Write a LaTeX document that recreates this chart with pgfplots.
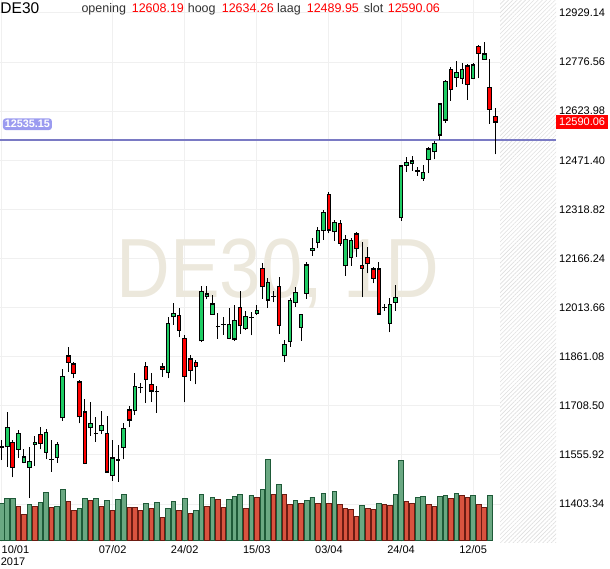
\documentclass[border=0pt]{standalone}
\usepackage{pgfplots}
\pgfplotsset{compat=1.18}
\usepackage{pgfplotstable}
\usepackage{fontspec}
\setmainfont{Liberation Sans}
\usetikzlibrary{patterns.meta}
\definecolor{cgreen}{RGB}{30,205,100}
\definecolor{cred}{RGB}{255,0,0}
\definecolor{vgreen}{RGB}{106,168,130}
\definecolor{vgreend}{RGB}{30,90,56}
\definecolor{vred}{RGB}{217,83,63}
\definecolor{vredd}{RGB}{107,27,18}
\definecolor{gridc}{RGB}{240,240,240}
\definecolor{hlinec}{RGB}{122,122,196}
\definecolor{hlabel}{RGB}{155,155,240}
\definecolor{wmark}{RGB}{236,232,220}
\definecolor{hdrgray}{RGB}{50,50,50}

% i open high low close volume volume-up
\pgfplotstableread{
i o h l c v vg
0 11580.49 11602.24 11540.09 11580.49 37.3 1
1 11581.42 11689.25 11519.27 11641.71 42.3 1
2 11595.09 11602.24 11486.33 11517.41 42.5 1
3 11573.34 11633.31 11547.24 11623.06 34.3 0
4 11532.94 11573.34 11529.84 11549.41 26.3 0
5 11517.41 11579.56 11422.00 11536.05 36.3 1
6 11588.88 11614.67 11521.44 11595.09 34.3 0
7 11619.95 11641.71 11573.34 11591.98 38.3 1
8 11564.02 11635.49 11542.27 11626.17 48.3 1
9 11542.27 11602.24 11502.91 11542.27 33.3 0
10 11548.48 11596.96 11531.70 11588.88 34.3 1
11 11671.54 11821.94 11662.21 11800.19 51.3 1
12 11863.27 11892.17 11814.48 11843.69 39.3 0
13 11838.41 11845.56 11793.97 11809.51 30.3 0
14 11782.48 11788.69 11654.14 11674.64 32.3 1
15 11689.25 11729.65 11527.50 11529.84 42.3 1
16 11640.46 11720.32 11614.67 11654.14 40.3 0
17 11623.06 11672.78 11596.96 11623.06 42.3 1
18 11631.14 11693.29 11620.88 11647.92 34.3 0
19 11623.06 11676.82 11501.00 11502.91 40.3 1
20 11491.30 11602.24 11475.76 11546.30 30.3 0
21 11540.09 11586.70 11472.66 11540.09 41.3 1
22 11579.56 11656.00 11542.27 11638.60 46.3 1
23 11695.46 11707.89 11641.71 11664.39 33.3 0
24 11693.29 11809.51 11679.93 11769.11 33.0 0
25 11764.76 11778.44 11747.36 11764.76 30.3 0
26 11830.02 11845.56 11718.15 11790.87 37.3 1
27 11775.33 11809.51 11721.26 11754.51 32.3 0
28 11752.33 11770.05 11687.07 11752.33 38.3 1
29 11829.09 11840.58 11798.94 11821.94 23.3 0
30 11811.37 11985.39 11793.97 11964.89 32.3 1
31 11985.39 12027.04 11959.60 11995.96 39.3 1
32 11989.75 12011.50 11921.38 11943.13 30.3 0
33 11918.27 11928.53 11719.39 11800.19 42.3 1
34 11853.95 11866.38 11786.51 11818.83 27.3 0
35 11843.69 11850.84 11775.33 11830.02 30.3 1
36 11910.81 12080.80 11906.77 12064.33 46.3 1
37 12048.79 12080.80 12039.47 12055.94 34.3 0
38 11992.85 12052.83 11990.68 12024.86 43.3 1
39 11954.32 11995.96 11916.10 11954.32 41.3 0
40 11961.78 11983.53 11928.53 11961.78 33.3 0
41 11918.27 12013.36 11915.17 11961.78 41.3 1
42 11916.10 12020.82 11909.88 11974.21 44.3 1
43 12014.61 12065.26 11931.63 11957.42 46.3 1
44 11949.35 12003.11 11944.06 11986.64 32.3 0
45 11983.53 12000.00 11926.97 11983.53 45.3 1
46 11995.96 12022.68 11990.68 12005.28 43.3 0
47 12135.80 12151.33 12040.40 12078.62 51.3 1
48 12037.29 12104.72 12013.36 12092.29 81.3 1
49 12047.54 12065.26 12030.14 12047.54 46.3 0
50 12078.62 12107.83 11931.63 11958.67 56.3 1
51 11865.45 11912.99 11845.56 11899.63 46.3 0
52 11907.71 12042.57 11892.17 12036.36 36.3 0
53 12030.14 12078.62 12016.47 12061.22 40.3 1
54 11952.46 11993.50 11910.81 11992.85 37.3 0
55 12058.11 12154.44 12040.40 12146.05 40.3 1
56 12191.73 12229.02 12174.95 12197.95 43.3 1
57 12216.59 12265.07 12197.95 12252.64 37.3 0
58 12252.64 12316.97 12223.74 12309.82 47.3 1
59 12365.75 12371.97 12244.56 12254.81 37.3 0
60 12249.53 12285.89 12221.56 12278.74 49.3 1
61 12275.64 12285.89 12205.09 12213.48 36.3 0
62 12143.88 12239.28 12112.80 12225.92 32.3 0
63 12169.98 12229.02 12143.88 12222.81 31.3 0
64 12242.38 12247.67 12171.84 12197.95 24.3 0
65 12145.12 12217.52 12045.68 12135.80 35.3 1
66 12169.36 12202.92 12120.26 12150.71 32.3 0
67 12133.80 12140.77 12089.19 12104.72 31.3 0
68 12133.62 12156.31 11990.68 11993.78 37.3 1
69 12013.36 12023.93 12003.11 12013.36 36.3 0
70 11964.89 12042.57 11936.92 12023.93 35.3 0
71 12030.14 12083.90 12003.11 12045.68 46.3 1
72 12293.04 12455.00 12283.71 12453.69 80.3 1
73 12455.87 12480.73 12435.98 12465.19 39.3 0
74 12460.84 12484.77 12438.16 12469.23 37.3 0
75 12438.16 12449.66 12423.55 12438.16 43.3 1
76 12415.48 12456.80 12408.01 12434.11 44.3 1
77 12474.52 12511.81 12431.01 12506.52 36.3 0
78 12498.13 12531.38 12474.52 12524.23 34.3 0
79 12550.03 12648.00 12534.49 12646.36 44.3 1
80 12596.64 12720.94 12588.25 12715.66 45.3 1
81 12754.19 12762.27 12656.61 12692.04 42.3 0
82 12729.33 12779.98 12700.12 12744.87 47.3 1
83 12726.22 12772.84 12708.51 12754.19 45.3 0
84 12764.44 12770.66 12658.79 12707.58 43.3 0
85 12726.22 12772.84 12723.12 12767.55 45.3 1
86 12824.42 12829.70 12726.22 12803.91 36.3 0
87 12785.27 12838.09 12783.09 12801.73 33.3 0
88 12698.26 12785.27 12584.21 12629.89 45.3 1
89 12608.19 12634.26 12489.95 12590.06 nan 0
}\data

\begin{document}
\begin{tikzpicture}
\useasboundingbox (0pt,0pt) rectangle (610pt,568pt);
\begin{axis}[
  at={(0pt,26pt)}, anchor=south west,
  scale only axis, width=556pt, height=542pt,
  xmin=-0.3065, xmax=99.947, ymin=11285.27, ymax=12969.54,
  clip=false,
  axis line style={draw=none},
  major tick length=0pt, tick style={draw=none},
  grid=major, grid style={draw=gridc, line width=1pt},
  ytick={11403.34,11555.92,11708.50,11861.08,12013.66,12166.24,12318.82,12471.40,12623.98,12776.56,12929.14},
  yticklabels={11403.34,11555.92,11708.50,11861.08,12013.66,12166.24,12318.82,12471.40,12623.98,12776.56,12929.14},
  yticklabel pos=right,
  yticklabel style={anchor=west, inner sep=0pt, xshift=3pt},
  xtick={0,20,33,46,59,72,85},
  xticklabels={{\rlap{10/01}},07/02,24/02,15/03,03/04,24/04,12/05},
  xticklabel style={anchor=north, inner sep=0pt, yshift=-3pt},
  tick label style={font=\fontsize{11}{13}\selectfont, text=black},
  /pgf/number format/assume math mode=true,
]
% forecast (hatched) zone
\fill[white] (axis cs:89.85,11285.27) rectangle (axis cs:99.947,12969.54);
\fill[pattern={Lines[angle=45,distance=3pt,line width=0.6pt]}, pattern color=black!12]
  (axis cs:89.85,11285.27) rectangle (axis cs:99.947,12969.54);
% watermark
\node[anchor=base west, inner sep=0pt, text=wmark, xscale=0.886,
      font=\fontsize{84}{84}\selectfont] at (axis cs:20.63,12046.6) {DE30, 1D};
% level line
\addplot[hlinec, line width=2pt, forget plot] coordinates {(-0.3065,12535.15) (99.947,12535.15)};
% wicks
\addplot[draw=none, mark=none, forget plot,
  error bars/.cd, y dir=plus, y explicit, error mark=none,
  error bar style={draw=black, line width=1pt}]
  table[x=i, y=l, y error plus expr={\thisrow{h}-\thisrow{l}}] {\data};
% body outline
\addplot[draw=none, mark=none, forget plot,
  error bars/.cd, y dir=plus, y explicit, error mark=none,
  error bar style={draw=black, line width=4.6pt}]
  table[x=i, y expr={min(\thisrow{o},\thisrow{c})-2.0},
        y error plus expr={abs(\thisrow{c}-\thisrow{o})+4.0}] {\data};
% rising bodies
\addplot[draw=none, mark=none, forget plot,
  restrict expr to domain={\thisrow{c}-\thisrow{o}}{0.01:100000},
  error bars/.cd, y dir=plus, y explicit, error mark=none,
  error bar style={draw=cgreen, line width=2.6pt}]
  table[x=i, y expr={\thisrow{o}+2.4},
        y error plus expr={max(\thisrow{c}-\thisrow{o}-4.8,0)}] {\data};
% falling bodies
\addplot[draw=none, mark=none, forget plot,
  restrict expr to domain={\thisrow{o}-\thisrow{c}}{0.01:100000},
  error bars/.cd, y dir=plus, y explicit, error mark=none,
  error bar style={draw=cred, line width=2.6pt}]
  table[x=i, y expr={\thisrow{c}+2.4},
        y error plus expr={max(\thisrow{o}-\thisrow{c}-4.8,0)}] {\data};
% price labels
\node[anchor=west, fill=hlabel, text=white, rounded corners=3pt, inner xsep=2pt, inner ysep=0pt,
      minimum height=11.7pt, font=\bfseries\fontsize{10.8}{12}\selectfont] at (axis cs:0.18,12583.6) {12535.15};
\node[anchor=west, fill=cred, text=white, inner xsep=3pt, inner ysep=0pt,
      minimum height=14pt, font=\fontsize{11}{13}\selectfont] at (axis cs:99.947,12590.06) {12590.06};
\end{axis}
% volume
\begin{axis}[
  at={(0pt,26pt)}, anchor=south west,
  scale only axis, width=556pt, height=542pt,
  xmin=-0.3065, xmax=99.947, ymin=-1.3, ymax=540.7,
  hide axis, clip=false,
]
\addplot[ybar, bar width=4.6pt, bar shift=0pt, fill=vgreen, draw=vgreend, line width=0.9pt,
  restrict expr to domain={\thisrow{vg}}{0.5:1.5}] table[x=i, y=v] {\data};
\addplot[ybar, bar width=4.6pt, bar shift=0pt, fill=vred, draw=vredd, line width=0.9pt,
  restrict expr to domain={\thisrow{vg}}{-0.5:0.5}] table[x=i, y=v] {\data};
\end{axis}
% header
\node[anchor=base west, inner sep=0pt, font=\fontsize{15.5}{17}\selectfont] at (0.3pt,554.3pt) {DE30};
\begin{scope}[every node/.style={anchor=base west, inner sep=0pt, font=\fontsize{12.5}{14}\selectfont}]
\node[text=hdrgray] at (81.3pt,555.5pt) {opening};
\node[text=cred] at (131.6pt,555.5pt) {12608.19};
\node[text=hdrgray] at (187.6pt,555.5pt) {hoog};
\node[text=cred] at (221.6pt,555.5pt) {12634.26};
\node[text=hdrgray] at (277pt,555.5pt) {laag};
\node[text=cred] at (306.6pt,555.5pt) {12489.95};
\node[text=hdrgray] at (363.6pt,555.5pt) {slot};
\node[text=cred] at (387.6pt,555.5pt) {12590.06};
\end{scope}
\node[anchor=base west, inner sep=0pt, font=\fontsize{11}{13}\selectfont] at (0.6pt,2.2pt) {2017};
\end{tikzpicture}
\end{document}
